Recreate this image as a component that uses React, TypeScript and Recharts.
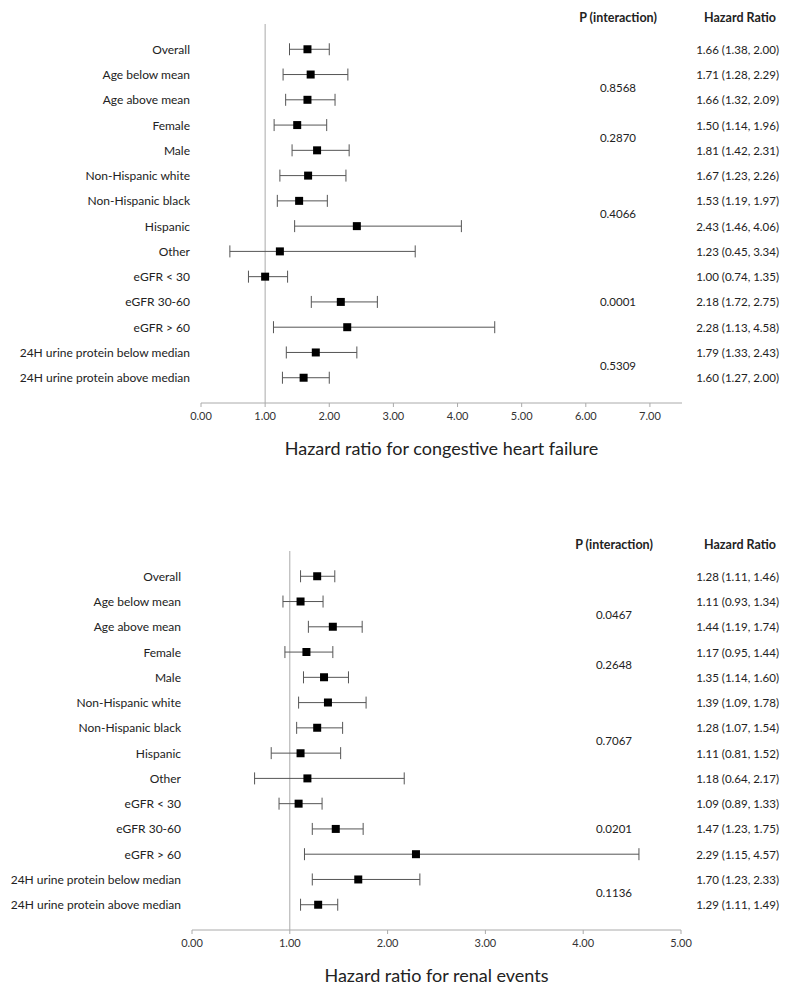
import React from "react";
import { ScatterChart, Scatter, XAxis, YAxis, ZAxis, ErrorBar, ReferenceLine } from "recharts";

const subgroups = [
  "Overall",
  "Age below mean",
  "Age above mean",
  "Female",
  "Male",
  "Non-Hispanic white",
  "Non-Hispanic black",
  "Hispanic",
  "Other",
  "eGFR < 30",
  "eGFR 30-60",
  "eGFR > 60",
  "24H urine protein below median",
  "24H urine protein above median",
];

// row ranges that share one interaction p value
const pGroups = [[1, 2], [3, 4], [5, 8], [9, 11], [12, 13]];

const chfHr = [1.66, 1.71, 1.66, 1.5, 1.81, 1.67, 1.53, 2.43, 1.23, 1.0, 2.18, 2.28, 1.79, 1.6];
const chfLo = [1.38, 1.28, 1.32, 1.14, 1.42, 1.23, 1.19, 1.46, 0.45, 0.74, 1.72, 1.13, 1.33, 1.27];
const chfHi = [2.0, 2.29, 2.09, 1.96, 2.31, 2.26, 1.97, 4.06, 3.34, 1.35, 2.75, 4.58, 2.43, 2.0];
const chfP = ["0.8568", "0.2870", "0.4066", "0.0001", "0.5309"];
const chfTicks = [0, 1, 2, 3, 4, 5, 6, 7];

const renalHr = [1.28, 1.11, 1.44, 1.17, 1.35, 1.39, 1.28, 1.11, 1.18, 1.09, 1.47, 2.29, 1.7, 1.29];
const renalLo = [1.11, 0.93, 1.19, 0.95, 1.14, 1.09, 1.07, 0.81, 0.64, 0.89, 1.23, 1.15, 1.23, 1.11];
const renalHi = [1.46, 1.34, 1.74, 1.44, 1.6, 1.78, 1.54, 1.52, 2.17, 1.33, 1.75, 4.57, 2.33, 1.49];
const renalP = ["0.0467", "0.2648", "0.7067", "0.0201", "0.1136"];
const renalTicks = [0, 1, 2, 3, 4, 5];

const FONT = "Lato, 'Open Sans', sans-serif";
const rowTicks = subgroups.map((_, i) => i);
const pMid = pGroups.map(([a, b]) => (a + b) / 2);
// one y axis carries rows and p-value positions
const yTicks = Array.from(new Set([...rowTicks, ...pMid])).sort((a, b) => a - b);

type PanelProps = {
  top: number;
  hr: number[];
  lo: number[];
  hi: number[];
  p: string[];
  xTicks: number[];
  xMax: number;
  leftW: number;
  rightW: number;
  pOffset: number;
  title: string;
};

function ForestPanel({ top, hr, lo, hi, p, xTicks, xMax, leftW, rightW, pOffset, title }: PanelProps) {
  const rows = hr.map((v, i) => ({ row: i, hr: v, err: [v - lo[i], hi[i] - v] }));
  const hrText = hr.map((v, i) => `${v.toFixed(2)} (${lo[i].toFixed(2)}, ${hi[i].toFixed(2)})`);
  const plotRight = 790 - rightW;
  const plotCenter = (leftW + plotRight) / 2;
  const pX = plotRight + pOffset;
  const hrX = 790 - 11;

  const RowTick = (props: any) => {
    const v = props.payload.value;
    const pi = pMid.indexOf(v);
    const isRow = Number.isInteger(v);
    return (
      <g fontFamily={FONT} fill="#222">
        {isRow && (
          <text x={props.x} y={props.y} textAnchor="end" dominantBaseline="central" fontSize={12}>
            {subgroups[v]}
          </text>
        )}
        {isRow && (
          <text x={hrX} y={props.y} textAnchor="end" dominantBaseline="central" fontSize={11.5}>
            {hrText[v]}
          </text>
        )}
        {pi >= 0 && (
          <text x={pX} y={props.y} textAnchor="middle" dominantBaseline="central" fontSize={11.5}>
            {p[pi]}
          </text>
        )}
      </g>
    );
  };

  return (
    <div style={{ position: "absolute", left: 0, top: top - 24, width: 790 }}>
      <div style={{ position: "absolute", left: pX - 60, width: 120, top: 10, textAlign: "center", fontFamily: FONT, fontWeight: 700, fontSize: 12.5, color: "#222", lineHeight: "16px" }}>
        P (interaction)
      </div>
      <div style={{ position: "absolute", left: 680, width: 120, top: 10, textAlign: "center", fontFamily: FONT, fontWeight: 700, fontSize: 12.5, color: "#222", lineHeight: "16px" }}>
        Hazard Ratio
      </div>
      <ScatterChart width={790} height={436} margin={{ top: 24, right: rightW, bottom: 3, left: 0 }}>
        <XAxis
          type="number"
          dataKey="hr"
          domain={[0, xMax]}
          ticks={xTicks}
          allowDataOverflow
          tickFormatter={(v: number) => v.toFixed(2)}
          stroke="#aaa"
          tickSize={4}
          tickMargin={5}
          tick={{ fill: "#333", fontSize: 11, fontFamily: FONT }}
        />
        <YAxis
          type="number"
          dataKey="row"
          domain={[-1, 14]}
          reversed
          ticks={yTicks}
          width={leftW}
          axisLine={false}
          tickLine={false}
          tickSize={0}
          tickMargin={11}
          interval={0}
          tick={RowTick}
        />
        <ZAxis range={[72, 72]} />
        <ReferenceLine x={1} stroke="#aaa" strokeWidth={1} />
        <Scatter data={rows} fill="#000" shape="square" isAnimationActive={false}>
          <ErrorBar dataKey="err" direction="x" width={6} stroke="#555" strokeWidth={1} isAnimationActive={false} />
        </Scatter>
      </ScatterChart>
      <div style={{ position: "absolute", left: plotCenter - 250, width: 500, top: 24 + 373 + 40, textAlign: "center", fontFamily: FONT, fontSize: 18, color: "#222", lineHeight: "22px" }}>
        {title}
      </div>
    </div>
  );
}

export default function App() {
  return (
    <div style={{ position: "absolute", left: 0, top: 0, width: 790, height: 993, background: "#fff", overflow: "hidden" }}>
      <ForestPanel
        top={24}
        hr={chfHr}
        lo={chfLo}
        hi={chfHi}
        p={chfP}
        xTicks={chfTicks}
        xMax={7.5}
        leftW={201}
        rightW={108}
        pOffset={-64}
        title="Hazard ratio for congestive heart failure"
      />
      <ForestPanel
        top={551}
        hr={renalHr}
        lo={renalLo}
        hi={renalHi}
        p={renalP}
        xTicks={renalTicks}
        xMax={5}
        leftW={192}
        rightW={109}
        pOffset={-67}
        title="Hazard ratio for renal events"
      />
    </div>
  );
}
